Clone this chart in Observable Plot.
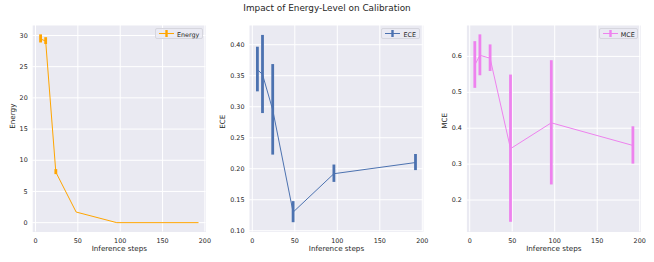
<!DOCTYPE html>
<html>
<head>
<meta charset="utf-8">
<script src="https://cdn.jsdelivr.net/npm/d3@7"></script>
<script src="https://cdn.jsdelivr.net/npm/@observablehq/plot@0.6"></script>
<style>
  html, body { margin: 0; padding: 0; background: #fff; }
  #chart { position: relative; width: 654px; height: 262px; font-family: "DejaVu Sans", sans-serif; color: #262626; }
  #chart .panel { position: absolute; top: 0; }
  #title { position: absolute; left: 0; width: 654px; top: 3px; text-align: center; font-size: 8.9px; color: #262626; }
  .legend { position: absolute; height: 11px; background: rgba(234,234,242,0.8); border: 1px solid #d6d6de; border-radius: 2px; box-sizing: border-box; font-size: 6.4px; color: #262626; }
  .legend svg { position: absolute; left: 2px; top: 0; }
  .legend span { position: absolute; top: 1.5px; color: #262626; }
</style>
</head>
<body>
<div id="chart"><div id="title">Impact of Energy-Level on Calibration</div></div>
<script>
const steps = [6, 12, 24, 48, 96, 192];
const energyMean = [29.45, 29.1, 8.1, 1.7, 0.0, 0.0];
const energyErr = [0.65, 0.55, 0.4, 0.0, 0.0, 0.0];
const eceMean = [0.360, 0.352, 0.295, 0.130, 0.192, 0.210];
const eceErr = [0.036, 0.063, 0.073, 0.017, 0.014, 0.013];
const mceMean = [0.576, 0.603, 0.595, 0.343, 0.415, 0.352];
const mceErr = [0.065, 0.057, 0.037, 0.205, 0.173, 0.052];

const xTicks = [0, 50, 100, 150, 200];
const energyTicks = [0, 5, 10, 15, 20, 25, 30];
const eceTicks = [0.10, 0.15, 0.20, 0.25, 0.30, 0.35, 0.40];
const mceTicks = [0.2, 0.3, 0.4, 0.5, 0.6];

const panels = [
  {name: "Energy", mean: energyMean, err: energyErr, color: "#FFA500", yTicks: energyTicks, fmt: d3.format("d"),
   yDomain: [-1.5, 31.6], left: 0, width: 215, marginLeft: 32.2, marginRight: 9.5, ylabelDx: -20, legendW: 48},
  {name: "ECE", mean: eceMean, err: eceErr, color: "#4C72B0", yTicks: eceTicks, fmt: d3.format(".2f"),
   yDomain: [0.098, 0.431], left: 215, width: 220, marginLeft: 34, marginRight: 12.1, ylabelDx: -27, legendW: 39},
  {name: "MCE", mean: mceMean, err: mceErr, color: "#EE82EE", yTicks: mceTicks, fmt: d3.format(".1f"),
   yDomain: [0.111, 0.686], left: 435, width: 219, marginLeft: 31.4, marginRight: 13.7, ylabelDx: -22.5, legendW: 39}
];

const chart = document.getElementById("chart");
const marginTop = 25, marginBottom = 30.5, H = 262;

for (const p of panels) {
  const data = steps.map((s, i) => ({step: s, mean: p.mean[i], lo: p.mean[i] - p.err[i], hi: p.mean[i] + p.err[i]}));
  const plot = Plot.plot({
    width: p.width, height: H,
    marginLeft: p.marginLeft, marginRight: p.marginRight, marginTop, marginBottom,
    style: {fontFamily: "DejaVu Sans, sans-serif", fontSize: "6.4px", color: "#262626", background: "transparent", overflow: "visible"},
    x: {domain: [-3.3, 201.3]},
    y: {domain: p.yDomain},
    marks: [
      Plot.frame({fill: "#EAEAF2", stroke: null}),
      Plot.gridX(xTicks, {stroke: "white", strokeOpacity: 1, strokeWidth: 1}),
      Plot.gridY(p.yTicks, {stroke: "white", strokeOpacity: 1, strokeWidth: 1}),
      Plot.axisX(xTicks, {tickSize: 0, tickPadding: 6, label: null, tickFormat: d3.format("d")}),
      Plot.axisY(p.yTicks, {tickSize: 0, tickPadding: 5, label: null, tickFormat: p.fmt}),
      Plot.text(["Inference steps"], {frameAnchor: "bottom", dy: 18.5, fontSize: 7.2, fill: "#262626"}),
      Plot.text([p.name], {frameAnchor: "left", rotate: -90, dx: p.ylabelDx, fontSize: 7.2, fill: "#262626"}),
      Plot.line(data, {x: "step", y: "mean", stroke: p.color, strokeWidth: 1}),
      Plot.ruleX(data, {x: "step", y1: "lo", y2: "hi", stroke: p.color, strokeWidth: 2.8})
    ]
  });
  const wrap = document.createElement("div");
  wrap.className = "panel";
  wrap.style.left = p.left + "px";
  wrap.appendChild(plot);
  chart.appendChild(wrap);

  // legend
  const frameRight = p.left + p.width - p.marginRight;
  const lg = document.createElement("div");
  lg.className = "legend";
  lg.style.left = (frameRight - 2.5 - p.legendW) + "px";
  lg.style.width = p.legendW + "px";
  lg.style.top = "28px";
  lg.innerHTML = `<svg width="18" height="10" viewBox="0 0 18 10"><line x1="1" x2="16" y1="4.5" y2="4.5" stroke="${p.color}" stroke-width="1"/><line x1="8.5" x2="8.5" y1="1" y2="8" stroke="${p.color}" stroke-width="2.4"/></svg><span style="left:21px">${p.name}</span>`;
  chart.appendChild(lg);
}
</script>
</body>
</html>
